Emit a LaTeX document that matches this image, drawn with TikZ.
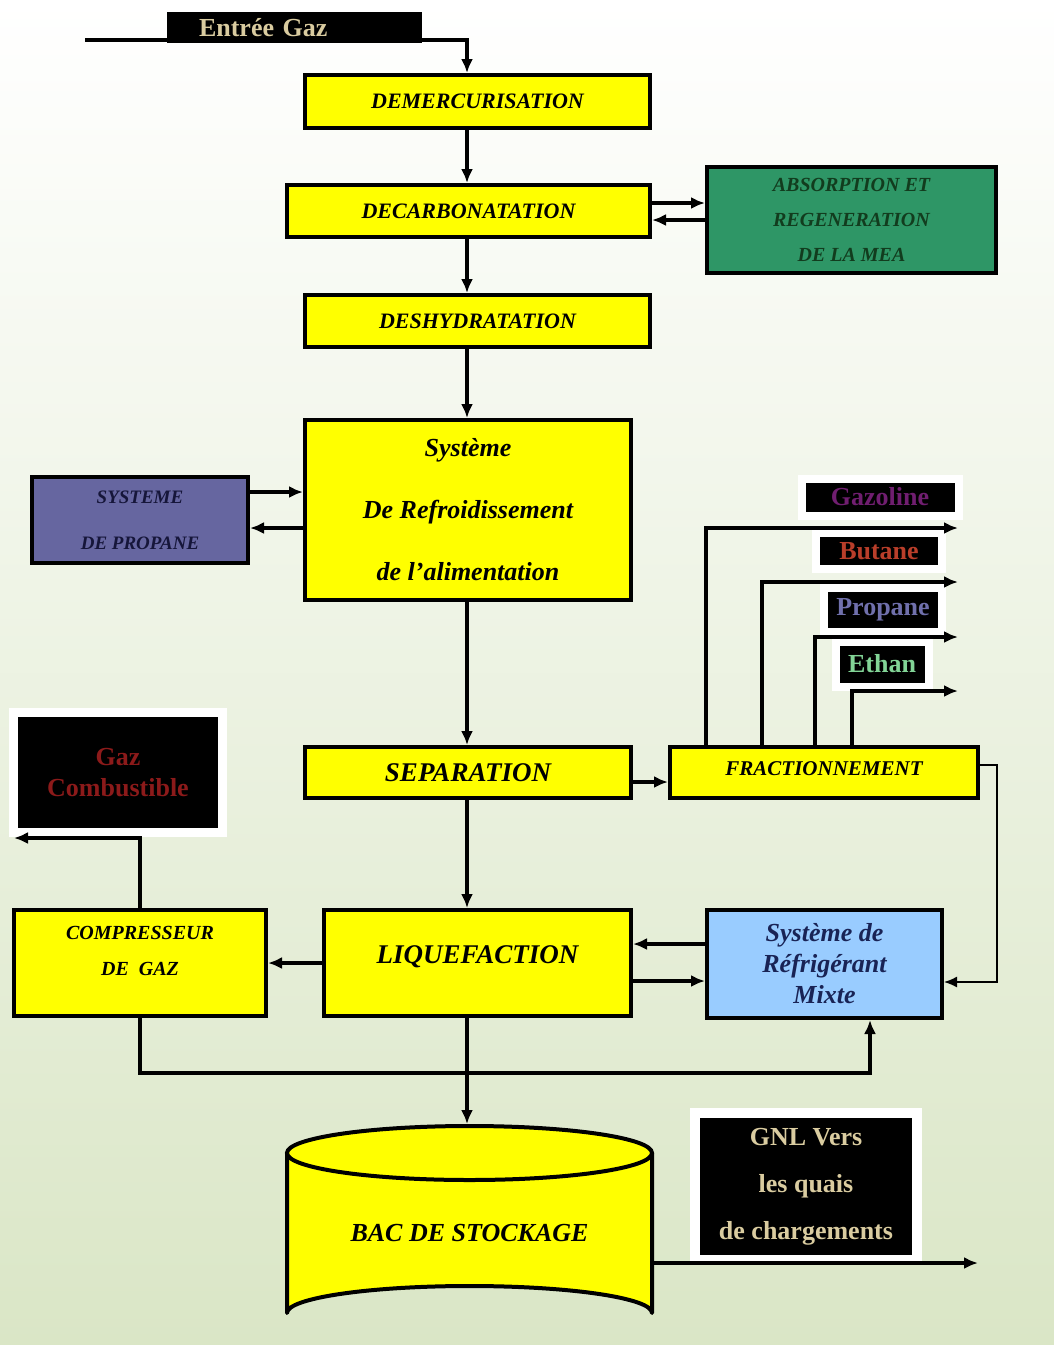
\documentclass[tikz,border=0pt]{standalone}
\usepackage{fontspec}
\setmainfont{Liberation Serif}
\usetikzlibrary{arrows.meta,positioning}

\definecolor{procyellow}{RGB}{255,255,0}
\definecolor{meagreen}{RGB}{46,150,102}
\definecolor{meatext}{RGB}{18,60,30}
\definecolor{propfill}{RGB}{102,102,160}
\definecolor{proptext}{RGB}{22,22,58}
\definecolor{mixfill}{RGB}{153,204,255}
\definecolor{mixtext}{RGB}{25,35,85}
\definecolor{beige}{RGB}{218,204,160}
\definecolor{gazcol}{RGB}{112,30,112}
\definecolor{butcol}{RGB}{185,62,42}
\definecolor{procol}{RGB}{112,112,172}
\definecolor{ethcol}{RGB}{130,212,150}
\definecolor{fuelcol}{RGB}{140,26,26}
\definecolor{bgmid}{RGB}{238,243,228}
\definecolor{bggreen}{RGB}{218,230,198}

\tikzset{
  proc/.style={draw, line width=4pt, fill=procyellow, inner sep=0pt, align=center,
    font=\bfseries\itshape\fontsize{22}{26}\selectfont},
  tag/.style={fill=black, inner sep=0pt, align=center,
    font=\bfseries\fontsize{26}{31}\selectfont},
  halo/.style={preaction={draw=white, line width=#1}},
  pipe/.style={line width=3.5pt},
  flow/.style={line width=3.5pt, -{Latex[length=14pt,width=12pt]}},
  thinflow/.style={line width=1.5pt, -{Latex[length=13pt,width=11pt]}}
}

\begin{document}
\begin{tikzpicture}[x=1pt, y=-1pt]
  \shade[top color=white, middle color=bgmid, bottom color=bggreen] (0,0) rectangle (1054,1345);
  \useasboundingbox (0,0) rectangle (1054,1345);
  \coordinate (spine) at (467,0);

  % main line
  \node[tag, text=beige, minimum width=255pt, minimum height=31pt, text width=191pt, align=left]
    (entree) at (294.5,27.5) {Entrée Gaz};
  \node[proc, minimum width=345pt, minimum height=53pt] (demerc) at (477.5,101.5) {DEMERCURISATION};
  \node[proc, minimum width=363pt, minimum height=52pt] (decarb) at (468.5,211) {DECARBONATATION};
  \node[proc, minimum width=345pt, minimum height=52pt] (deshyd) at (477.5,321) {DESHYDRATATION};
  \node[proc, minimum width=326pt, minimum height=180pt, font=\bfseries\itshape\fontsize{26}{62}\selectfont]
    (refroid) at (468,510) {Système\\De Refroidissement\\de l’alimentation};
  \node[proc, minimum width=326pt, minimum height=51pt, font=\bfseries\itshape\fontsize{27}{30}\selectfont]
    (separ) at (468,772.5) {SEPARATION};
  \node[proc, minimum width=307pt, minimum height=106pt, font=\bfseries\itshape\fontsize{27}{30}\selectfont]
    (liq) at (477.5,963) {LIQUEFACTION\\[-14pt]\mbox{}};

  % side units
  \node[proc, fill=meagreen, text=meatext, minimum width=289pt, minimum height=106pt,
    font=\bfseries\itshape\fontsize{20}{35}\selectfont]
    (mea) at (851.5,220) {ABSORPTION ET\\REGENERATION\\DE LA MEA};
  \node[proc, fill=propfill, text=proptext, minimum width=216pt, minimum height=86pt,
    font=\bfseries\itshape\fontsize{19}{46}\selectfont]
    (propane) at (140,520) {SYSTEME\\DE PROPANE};
  \node[proc, minimum width=308pt, minimum height=51pt, font=\bfseries\itshape\fontsize{21}{24}\selectfont]
    (fract) at (824,772.5) {FRACTIONNEMENT\\[-16pt]\mbox{}};
  \node[proc, fill=mixfill, text=mixtext, minimum width=235pt, minimum height=108pt,
    font=\bfseries\itshape\fontsize{26}{31}\selectfont]
    (mixte) at (824.5,964) {Système de\\Réfrigérant\\Mixte};
  \node[proc, minimum width=252pt, minimum height=106pt, font=\bfseries\itshape\fontsize{20}{36}\selectfont]
    (compr) at (140,963) {COMPRESSEUR\\DE~~GAZ\\[-12pt]\mbox{}};

  % products
  \node[tag, halo=16pt, text=gazcol, minimum width=149pt, minimum height=29pt] (gazoline) at (880,497) {Gazoline};
  \node[tag, halo=16pt, text=butcol, minimum width=118pt, minimum height=28pt] (butane) at (879,551) {Butane};
  \node[tag, halo=16pt, text=procol, minimum width=110pt, minimum height=36pt] (propanetag) at (883,610) {Propane};
  \node[tag, halo=16pt, text=ethcol, minimum width=85pt, minimum height=37pt] (ethan) at (882,664) {Ethan};
  \node[tag, halo=18pt, text=fuelcol, minimum width=200pt, minimum height=111pt] (fuel) at (118,772.5) {Gaz\\Combustible};
  \node[tag, halo=20pt, text=beige, minimum width=212pt, minimum height=137pt,
    font=\bfseries\fontsize{26}{47}\selectfont] (gnl) at (806,1186.5) {GNL Vers\\les quais\\de chargements};

  % storage tank
  \filldraw[line width=4pt, line join=round, fill=procyellow] (287,1153) -- (287,1313)
    arc[start angle=180, end angle=360, x radius=182.5, y radius=27] -- (652,1153);
  \filldraw[line width=4pt, fill=procyellow] (469.5,1153) ellipse[x radius=182.5, y radius=27];
  \node[font=\bfseries\itshape\fontsize{26}{30}\selectfont] (bac) at (469.5,1233) {BAC DE STOCKAGE};
  \coordinate (bactop) at (467,1124);
  \coordinate (bacright) at (652,1263);

  % free ends
  \coordinate (gasin) at (85,40);
  \coordinate (gazoline-out) at (958,528);
  \coordinate (butane-out) at (958,582);
  \coordinate (propane-out) at (958,637);
  \coordinate (ethan-out) at (958,691);
  \coordinate (fuelout) at (14,838);
  \coordinate (loop) at (870,1073);
  \coordinate (gnlout) at (978,1263);

  % connectors
  \draw[pipe] (gasin) -- (gasin -| entree.west);
  \draw[flow] (gasin -| entree.east) -| (demerc.north -| spine);
  \draw[flow] (demerc.south -| spine) -- (decarb.north -| spine);
  \draw[flow] ([yshift=8pt]decarb.east) -- ([yshift=8pt]decarb.east -| mea.west);
  \draw[flow] ([yshift=-9pt]decarb.east -| mea.west) -- ([yshift=-9pt]decarb.east);
  \draw[flow] (decarb.south -| spine) -- (deshyd.north -| spine);
  \draw[flow] (deshyd.south -| spine) -- (refroid.north -| spine);
  \draw[flow] ([yshift=28pt]propane.east) -- ([yshift=28pt]propane.east -| refroid.west);
  \draw[flow] ([yshift=-8pt]refroid.west |- propane.east) -- ([yshift=-8pt]propane.east);
  \draw[flow] (refroid.south -| spine) -- (separ.north -| spine);
  \draw[flow] ([yshift=-9.5pt]separ.east) -- ([yshift=-9.5pt]fract.west);
  \foreach \dx/\prod in {38/gazoline, 94/butane, 147/propane, 184/ethan}
    \draw[flow] ([xshift=\dx pt]fract.north west) |- (\prod-out);
  \draw[thinflow] ([yshift=7.5pt]fract.east) -- ++(17,0) |- ([yshift=-18pt]mixte.east);
  \draw[flow] (separ.south -| spine) -- (liq.north -| spine);
  \draw[flow] ([yshift=20pt]mixte.west) -- ([yshift=20pt]mixte.west -| liq.east);
  \draw[flow] ([yshift=-18pt]liq.east) -- ([yshift=-18pt]liq.east -| mixte.west);
  \draw[flow] (liq.west) -- (compr.east);
  \draw[flow] (compr.north) |- (fuelout);
  \draw[flow] (compr.south) |- (loop) -- (loop |- mixte.south);
  \draw[flow] (liq.south -| spine) -- (bactop);
  \draw[flow] (bacright) -- (gnlout);
\end{tikzpicture}
\end{document}
